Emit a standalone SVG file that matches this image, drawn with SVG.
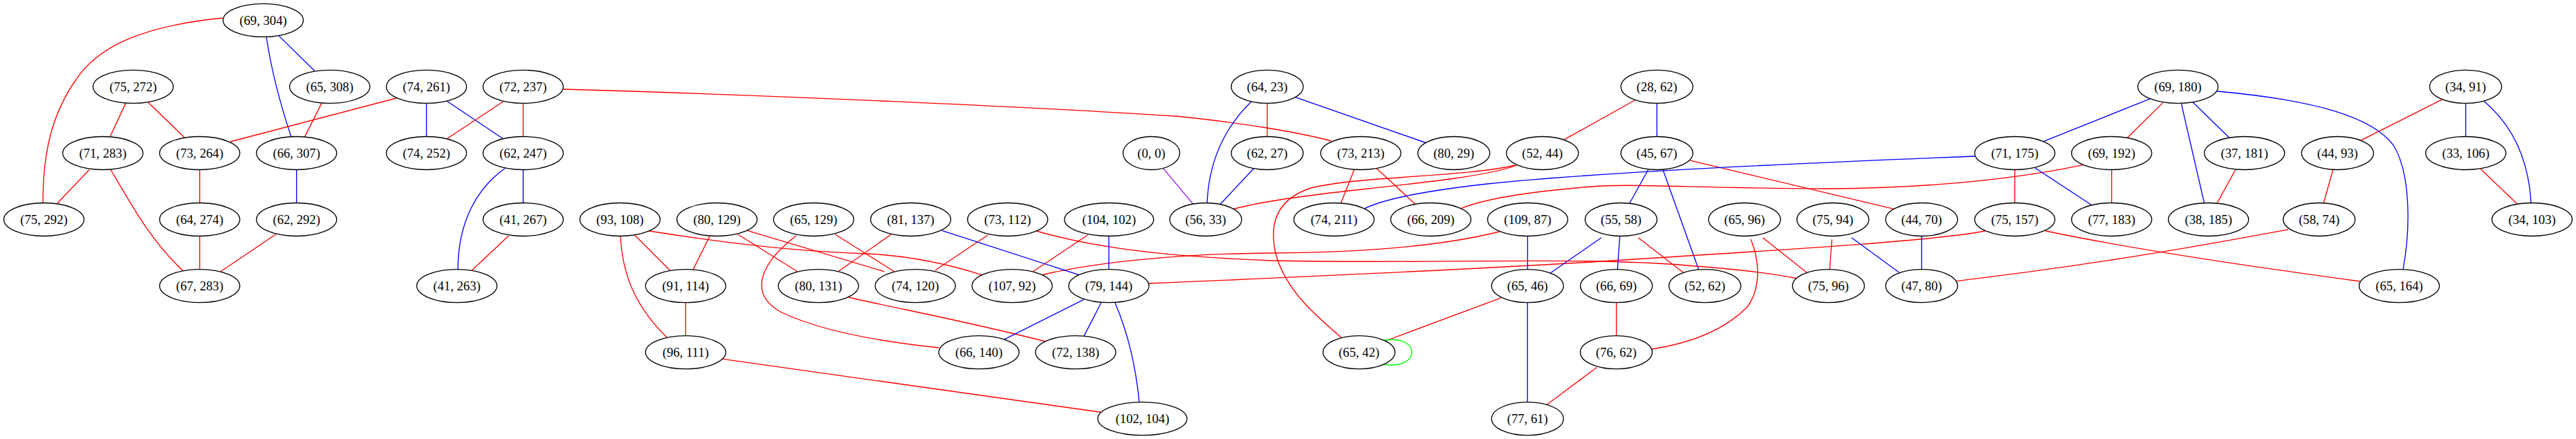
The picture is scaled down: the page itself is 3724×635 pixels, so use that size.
<svg xmlns="http://www.w3.org/2000/svg" width="3724" height="635" viewBox="0 0 3724 635">
<style>
.node ellipse{fill:#ffffff;stroke:#000000;stroke-width:1.33}
.node text{font-family:"Liberation Serif","Times New Roman",serif;font-size:18.67px;text-anchor:middle;fill:#000000}
#edges path{fill:none;stroke-width:1.33}
.r{stroke:#ff0000}.b{stroke:#0000ff}.p{stroke:#a020f0}.g{stroke:#00ff00}
</style>
<rect width="3724" height="635" fill="#ffffff"/>
<g id="edges">
<path class="r" d="M322,26 C200,38 140,70 110,115 C75,165 62,220 62,294"/>
<path class="b" d="M385,53 C392,100 405,150 421,198"/>
<path class="b" d="M403,51.6 L455,102.7"/>
<path class="r" d="M181.7,149.4 L159,198"/>
<path class="r" d="M214.3,148.2 L266.7,198.9"/>
<path class="r" d="M465,149.4 L440,198.9"/>
<path class="r" d="M573,142 L333,205"/>
<path class="b" d="M616.5,149.4 V197.6"/>
<path class="b" d="M645.7,146 L727.7,201"/>
<path class="r" d="M727.7,146.8 L645.7,201"/>
<path class="r" d="M756.3,149.4 V197.6"/>
<path class="r" d="M814,129 C1100,137 1500,155 1700,168 C1800,178 1880,192 1925,204"/>
<path class="b" d="M730,243.5 C690,272 662,320 662,390"/>
<path class="b" d="M756.3,245.5 V293.5"/>
<path class="r" d="M735.3,341 L682.3,391"/>
<path class="r" d="M129,245.5 L82.7,294.2"/>
<path class="r" d="M160,245.5 C190,295 215,345 265,392"/>
<path class="r" d="M288.7,245.5 V293.5"/>
<path class="r" d="M288.7,341.5 V389.6"/>
<path class="b" d="M428.7,245.5 V293.5"/>
<path class="r" d="M399,338.8 L319,392.8"/>
<path class="b" d="M1809,147 C1775,180 1748,225 1745,294"/>
<path class="r" d="M1832,149.4 V197.6"/>
<path class="b" d="M1873.3,140.9 L2062.7,207"/>
<path class="b" d="M1812.7,243.5 L1764,295.5"/>
<path class="p" d="M1681.7,243.5 L1725,295.5"/>
<path class="r" d="M1957.7,245.5 L1938.3,294.2"/>
<path class="r" d="M1990,243.5 L2046,295.4"/>
<path class="r" d="M2193,239 C2150,255 2050,265 1950,276 C1860,286 1810,295 1783,302.5"/>
<path class="r" d="M2363.3,145 L2261.7,201.7"/>
<path class="b" d="M2395.3,149.4 V197.6"/>
<path class="b" d="M2382.7,245.5 L2355.7,294.2"/>
<path class="b" d="M2404,245.5 L2456,390.8"/>
<path class="r" d="M2443.3,232.1 L2738.3,302.3"/>
<path class="b" d="M2855,226 C2600,236 2300,250 2150,266 C2060,276 2000,288 1972,302"/>
<path class="r" d="M3011,238.6 C2900,262 2780,272 2640,273 C2450,272 2350,265 2300,270 C2200,278 2140,290 2112,301.6"/>
<path class="b" d="M3108.3,142.9 L2953.3,204.9"/>
<path class="r" d="M3126.7,148.6 L3075,199.7"/>
<path class="b" d="M3153.3,149.4 L3186.7,294.2"/>
<path class="b" d="M3170,147.8 L3223.3,199.7"/>
<path class="b" d="M3205,132 C3350,145 3430,170 3460,210 C3485,250 3485,330 3474,390"/>
<path class="r" d="M2912.7,245.5 V293.5"/>
<path class="b" d="M2941.7,242.7 L3023.3,296.3"/>
<path class="r" d="M3052.7,245.5 V293.5"/>
<path class="r" d="M3231.7,245.5 L3205,294.2"/>
<path class="r" d="M3531,143.7 L3413.3,202.9"/>
<path class="b" d="M3564.6,149.4 V197.6"/>
<path class="b" d="M3590.7,146 C3625,175 3655,220 3659,294"/>
<path class="r" d="M3586,244.3 L3639,295"/>
<path class="r" d="M3372.7,245.5 L3359,294.2"/>
<path class="r" d="M3308,332 C3200,352 3050,380 2828,406.6"/>
<path class="r" d="M2957,334 C3080,360 3250,385 3412,407"/>
<path class="r" d="M2870,334 C2800,348 2600,360 2300,379 C2100,391 1850,402 1661,410"/>
<path class="r" d="M2648.3,346.3 L2645,390.8"/>
<path class="b" d="M2676.7,343.8 L2750.7,398"/>
<path class="b" d="M2778,341.5 V389.6"/>
<path class="r" d="M2548.3,343.8 L2616.7,398"/>
<path class="r" d="M2531,346 C2545,380 2545,420 2525,445 C2490,480 2440,497 2388,505"/>
<path class="b" d="M2315,343.8 L2237,398"/>
<path class="b" d="M2341.7,341.5 L2338.3,390"/>
<path class="r" d="M2368.3,343.8 L2438.3,398"/>
<path class="b" d="M2208.4,341.5 V389.6"/>
<path class="r" d="M2168,335 C2100,352 2000,365 1840,366 C1700,367 1580,380 1507,397.5"/>
<path class="r" d="M1498,334 C1560,352 1650,370 1840,377 C2050,382 2300,371 2440,384 C2520,390 2570,397 2597,402.5"/>
<path class="r" d="M1428,340 L1352,391"/>
<path class="r" d="M1572.3,340 L1493.3,392.8"/>
<path class="b" d="M1603,341.5 V389.6"/>
<path class="b" d="M1362,333.6 L1560,397.6"/>
<path class="r" d="M1288.3,339 L1211.7,392.8"/>
<path class="r" d="M1207.3,339 L1292.7,392.8"/>
<path class="r" d="M1151,341 C1100,380 1080,425 1130,452 C1190,480 1280,495 1357.5,503"/>
<path class="r" d="M1026,341.7 L1001.7,390.4"/>
<path class="r" d="M1066.7,339 L1152.7,392.8"/>
<path class="r" d="M1080.7,333.6 L1278.3,392.8"/>
<path class="r" d="M917,339.5 L970,392.8"/>
<path class="r" d="M897,342 C900,400 920,445 965,489"/>
<path class="r" d="M938,334 C1050,352 1150,364 1253,367 C1320,370 1380,385 1420,397.8"/>
<path class="r" d="M1226.7,430 C1300,447 1390,463 1511.7,494"/>
<path class="r" d="M991.2,437.6 V485.6"/>
<path class="r" d="M1045,519.4 L1593.3,596.5"/>
<path class="b" d="M1566.7,433.4 L1450,491.8"/>
<path class="b" d="M1591.7,438.2 L1566.7,486.9"/>
<path class="b" d="M1612,438 C1630,480 1642,530 1647,582"/>
<path class="r" d="M2170,430.9 L2003.3,493"/>
<path class="b" d="M2208.3,437.6 V581.7"/>
<path class="r" d="M2336.7,437.6 V485.6"/>
<path class="r" d="M2308.3,531.5 L2235,586.3"/>
<path class="g" d="M2000,492.5 C2025,488 2041,497 2041,509.6 C2041,522 2025,531 2000,527"/>
<path class="r" d="M2190,239 C2120,256 1960,255 1895,272 C1840,290 1835,330 1845,370 C1860,420 1900,455 1940,489"/>
</g>
<g id="n_69_304" class="node"><ellipse cx="380.5" cy="29.3" rx="58" ry="24"/><text x="380.5" y="35.8">(69, 304)</text></g>
<g id="n_75_272" class="node"><ellipse cx="192.5" cy="125.4" rx="58" ry="24"/><text x="192.5" y="131.9">(75, 272)</text></g>
<g id="n_65_308" class="node"><ellipse cx="476.7" cy="125.4" rx="58" ry="24"/><text x="476.7" y="131.9">(65, 308)</text></g>
<g id="n_74_261" class="node"><ellipse cx="616.5" cy="125.4" rx="58" ry="24"/><text x="616.5" y="131.9">(74, 261)</text></g>
<g id="n_72_237" class="node"><ellipse cx="756.3" cy="125.4" rx="58" ry="24"/><text x="756.3" y="131.9">(72, 237)</text></g>
<g id="n_64_23" class="node"><ellipse cx="1832" cy="125.4" rx="52" ry="24"/><text x="1832" y="131.9">(64, 23)</text></g>
<g id="n_28_62" class="node"><ellipse cx="2395.3" cy="125.4" rx="52" ry="24"/><text x="2395.3" y="131.9">(28, 62)</text></g>
<g id="n_69_180" class="node"><ellipse cx="3148.5" cy="125.4" rx="58" ry="24"/><text x="3148.5" y="131.9">(69, 180)</text></g>
<g id="n_34_91" class="node"><ellipse cx="3564.5" cy="125.4" rx="52" ry="24"/><text x="3564.5" y="131.9">(34, 91)</text></g>
<g id="n_71_283" class="node"><ellipse cx="148.7" cy="221.5" rx="58" ry="24"/><text x="148.7" y="228">(71, 283)</text></g>
<g id="n_73_264" class="node"><ellipse cx="288.7" cy="221.5" rx="58" ry="24"/><text x="288.7" y="228">(73, 264)</text></g>
<g id="n_66_307" class="node"><ellipse cx="428.7" cy="221.5" rx="58" ry="24"/><text x="428.7" y="228">(66, 307)</text></g>
<g id="n_74_252" class="node"><ellipse cx="616.5" cy="221.5" rx="58" ry="24"/><text x="616.5" y="228">(74, 252)</text></g>
<g id="n_62_247" class="node"><ellipse cx="756.3" cy="221.5" rx="58" ry="24"/><text x="756.3" y="228">(62, 247)</text></g>
<g id="n_0_0" class="node"><ellipse cx="1664.5" cy="221.5" rx="41" ry="24"/><text x="1664.5" y="228">(0, 0)</text></g>
<g id="n_62_27" class="node"><ellipse cx="1832" cy="221.5" rx="52" ry="24"/><text x="1832" y="228">(62, 27)</text></g>
<g id="n_73_213" class="node"><ellipse cx="1967.2" cy="221.5" rx="58" ry="24"/><text x="1967.2" y="228">(73, 213)</text></g>
<g id="n_80_29" class="node"><ellipse cx="2101.7" cy="221.5" rx="52" ry="24"/><text x="2101.7" y="228">(80, 29)</text></g>
<g id="n_52_44" class="node"><ellipse cx="2229.8" cy="221.5" rx="52" ry="24"/><text x="2229.8" y="228">(52, 44)</text></g>
<g id="n_45_67" class="node"><ellipse cx="2395.3" cy="221.5" rx="52" ry="24"/><text x="2395.3" y="228">(45, 67)</text></g>
<g id="n_71_175" class="node"><ellipse cx="2912.7" cy="221.5" rx="58" ry="24"/><text x="2912.7" y="228">(71, 175)</text></g>
<g id="n_69_192" class="node"><ellipse cx="3052.7" cy="221.5" rx="58" ry="24"/><text x="3052.7" y="228">(69, 192)</text></g>
<g id="n_37_181" class="node"><ellipse cx="3244.7" cy="221.5" rx="58" ry="24"/><text x="3244.7" y="228">(37, 181)</text></g>
<g id="n_44_93" class="node"><ellipse cx="3379.3" cy="221.5" rx="52" ry="24"/><text x="3379.3" y="228">(44, 93)</text></g>
<g id="n_33_106" class="node"><ellipse cx="3564.7" cy="221.5" rx="58" ry="24"/><text x="3564.7" y="228">(33, 106)</text></g>
<g id="n_75_292" class="node"><ellipse cx="63.5" cy="317.5" rx="58" ry="24"/><text x="63.5" y="324">(75, 292)</text></g>
<g id="n_64_274" class="node"><ellipse cx="288.7" cy="317.5" rx="58" ry="24"/><text x="288.7" y="324">(64, 274)</text></g>
<g id="n_62_292" class="node"><ellipse cx="428.7" cy="317.5" rx="58" ry="24"/><text x="428.7" y="324">(62, 292)</text></g>
<g id="n_41_267" class="node"><ellipse cx="756.3" cy="317.5" rx="58" ry="24"/><text x="756.3" y="324">(41, 267)</text></g>
<g id="n_93_108" class="node"><ellipse cx="896.3" cy="317.5" rx="58" ry="24"/><text x="896.3" y="324">(93, 108)</text></g>
<g id="n_80_129" class="node"><ellipse cx="1036.5" cy="317.5" rx="58" ry="24"/><text x="1036.5" y="324">(80, 129)</text></g>
<g id="n_65_129" class="node"><ellipse cx="1176.3" cy="317.5" rx="58" ry="24"/><text x="1176.3" y="324">(65, 129)</text></g>
<g id="n_81_137" class="node"><ellipse cx="1316.5" cy="317.5" rx="58" ry="24"/><text x="1316.5" y="324">(81, 137)</text></g>
<g id="n_73_112" class="node"><ellipse cx="1456.7" cy="317.5" rx="58" ry="24"/><text x="1456.7" y="324">(73, 112)</text></g>
<g id="n_104_102" class="node"><ellipse cx="1603.3" cy="317.5" rx="64.5" ry="24"/><text x="1603.3" y="324">(104, 102)</text></g>
<g id="n_56_33" class="node"><ellipse cx="1743" cy="317.5" rx="52" ry="24"/><text x="1743" y="324">(56, 33)</text></g>
<g id="n_74_211" class="node"><ellipse cx="1928.5" cy="317.5" rx="58" ry="24"/><text x="1928.5" y="324">(74, 211)</text></g>
<g id="n_66_209" class="node"><ellipse cx="2068.5" cy="317.5" rx="58" ry="24"/><text x="2068.5" y="324">(66, 209)</text></g>
<g id="n_109_87" class="node"><ellipse cx="2208.5" cy="317.5" rx="58" ry="24"/><text x="2208.5" y="324">(109, 87)</text></g>
<g id="n_55_58" class="node"><ellipse cx="2343.5" cy="317.5" rx="52" ry="24"/><text x="2343.5" y="324">(55, 58)</text></g>
<g id="n_65_96" class="node"><ellipse cx="2522" cy="317.5" rx="52" ry="24"/><text x="2522" y="324">(65, 96)</text></g>
<g id="n_75_94" class="node"><ellipse cx="2649.7" cy="317.5" rx="52" ry="24"/><text x="2649.7" y="324">(75, 94)</text></g>
<g id="n_44_70" class="node"><ellipse cx="2778" cy="317.5" rx="52" ry="24"/><text x="2778" y="324">(44, 70)</text></g>
<g id="n_75_157" class="node"><ellipse cx="2912.7" cy="317.5" rx="58" ry="24"/><text x="2912.7" y="324">(75, 157)</text></g>
<g id="n_77_183" class="node"><ellipse cx="3052.7" cy="317.5" rx="58" ry="24"/><text x="3052.7" y="324">(77, 183)</text></g>
<g id="n_38_185" class="node"><ellipse cx="3192.7" cy="317.5" rx="58" ry="24"/><text x="3192.7" y="324">(38, 185)</text></g>
<g id="n_58_74" class="node"><ellipse cx="3352.7" cy="317.5" rx="52" ry="24"/><text x="3352.7" y="324">(58, 74)</text></g>
<g id="n_34_103" class="node"><ellipse cx="3660.5" cy="317.5" rx="58" ry="24"/><text x="3660.5" y="324">(34, 103)</text></g>
<g id="n_67_283" class="node"><ellipse cx="288.7" cy="413.6" rx="58" ry="24"/><text x="288.7" y="420.1">(67, 283)</text></g>
<g id="n_41_263" class="node"><ellipse cx="660.5" cy="413.6" rx="58" ry="24"/><text x="660.5" y="420.1">(41, 263)</text></g>
<g id="n_91_114" class="node"><ellipse cx="991.2" cy="413.6" rx="58" ry="24"/><text x="991.2" y="420.1">(91, 114)</text></g>
<g id="n_80_131" class="node"><ellipse cx="1183.2" cy="413.6" rx="58" ry="24"/><text x="1183.2" y="420.1">(80, 131)</text></g>
<g id="n_74_120" class="node"><ellipse cx="1323.2" cy="413.6" rx="58" ry="24"/><text x="1323.2" y="420.1">(74, 120)</text></g>
<g id="n_107_92" class="node"><ellipse cx="1463.2" cy="413.6" rx="58" ry="24"/><text x="1463.2" y="420.1">(107, 92)</text></g>
<g id="n_79_144" class="node"><ellipse cx="1603" cy="413.6" rx="58" ry="24"/><text x="1603" y="420.1">(79, 144)</text></g>
<g id="n_65_46" class="node"><ellipse cx="2208.3" cy="413.6" rx="52" ry="24"/><text x="2208.3" y="420.1">(65, 46)</text></g>
<g id="n_66_69" class="node"><ellipse cx="2336.7" cy="413.6" rx="52" ry="24"/><text x="2336.7" y="420.1">(66, 69)</text></g>
<g id="n_52_62" class="node"><ellipse cx="2464.7" cy="413.6" rx="52" ry="24"/><text x="2464.7" y="420.1">(52, 62)</text></g>
<g id="n_75_96" class="node"><ellipse cx="2643.3" cy="413.6" rx="52" ry="24"/><text x="2643.3" y="420.1">(75, 96)</text></g>
<g id="n_47_80" class="node"><ellipse cx="2778" cy="413.6" rx="52" ry="24"/><text x="2778" y="420.1">(47, 80)</text></g>
<g id="n_65_164" class="node"><ellipse cx="3468.5" cy="413.6" rx="58" ry="24"/><text x="3468.5" y="420.1">(65, 164)</text></g>
<g id="n_96_111" class="node"><ellipse cx="991.2" cy="509.6" rx="58" ry="24"/><text x="991.2" y="516.1">(96, 111)</text></g>
<g id="n_66_140" class="node"><ellipse cx="1415.2" cy="509.6" rx="58" ry="24"/><text x="1415.2" y="516.1">(66, 140)</text></g>
<g id="n_72_138" class="node"><ellipse cx="1555" cy="509.6" rx="58" ry="24"/><text x="1555" y="516.1">(72, 138)</text></g>
<g id="n_65_42" class="node"><ellipse cx="1964.7" cy="509.6" rx="52" ry="24"/><text x="1964.7" y="516.1">(65, 42)</text></g>
<g id="n_76_62" class="node"><ellipse cx="2336.5" cy="509.6" rx="52" ry="24"/><text x="2336.5" y="516.1">(76, 62)</text></g>
<g id="n_102_104" class="node"><ellipse cx="1651.5" cy="605.7" rx="64.5" ry="24"/><text x="1651.5" y="612.2">(102, 104)</text></g>
<g id="n_77_61" class="node"><ellipse cx="2208.3" cy="605.7" rx="52" ry="24"/><text x="2208.3" y="612.2">(77, 61)</text></g>
</svg>
